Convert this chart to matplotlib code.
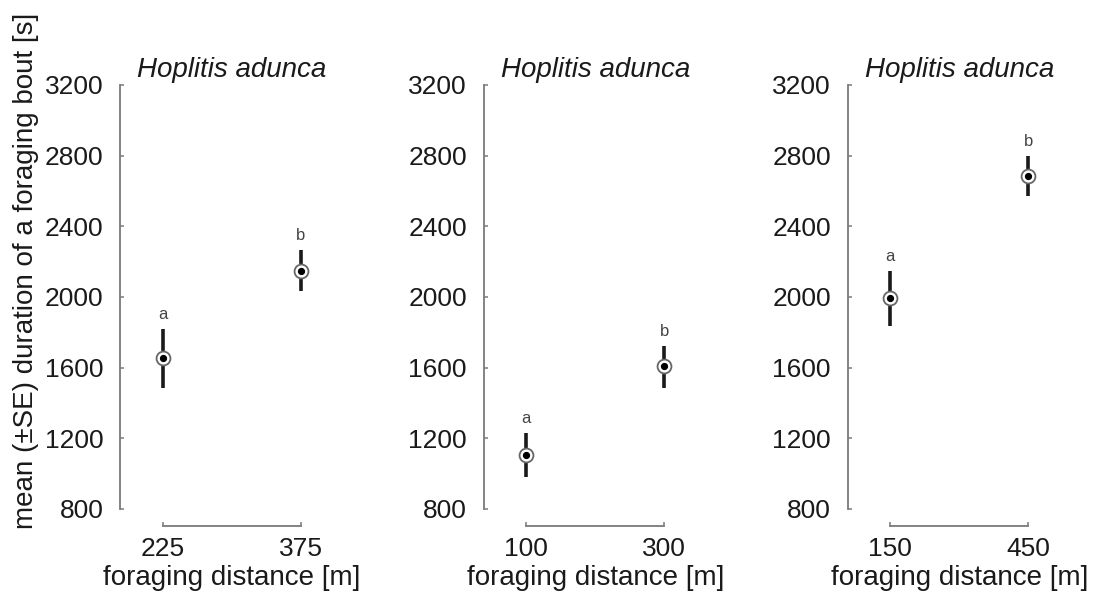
import matplotlib
matplotlib.use("Agg")
import matplotlib.pyplot as plt

plt.rcParams["font.family"] = ["Liberation Sans", "DejaVu Sans"]

species = ["Hoplitis adunca", "Hoplitis adunca", "Hoplitis adunca"]
distances = [[225, 375], [100, 300], [150, 450]]
means = [[1653, 2149], [1106, 1609], [1993, 2685]]
se_upper = [[1819, 2266], [1232, 1724], [2147, 2798]]
se_lower = [[1487, 2034], [983, 1487], [1837, 2572]]
letters = [["a", "b"], ["a", "b"], ["a", "b"]]
yticks = [800, 1200, 1600, 2000, 2400, 2800, 3200]

W, H = 1101, 596
fig = plt.figure(figsize=(W / 100, H / 100), dpi=100)

spine_grey = "#7a7a7a"
lefts = [137, 500.5, 864.5]
ax_w = 189.4
bottom_px, top_px = 509, 85
offset_pt = 17 * 72 / 100

for i in range(3):
    ax = fig.add_axes([lefts[i] / W, (H - bottom_px) / H, ax_w / W,
                       (bottom_px - top_px) / H])
    x = distances[i]
    m = means[i]
    lo = [m[k] - se_lower[i][k] for k in range(2)]
    hi = [se_upper[i][k] - m[k] for k in range(2)]

    ax.errorbar(x, m, yerr=[lo, hi], fmt="none", ecolor="#1a1a1a",
                elinewidth=2.6, capsize=0, zorder=2)
    ax.plot(x, m, "o", ms=10, mfc="white", mec="#666666", mew=1.3, zorder=3)
    ax.plot(x, m, "o", ms=4.2, color="black", zorder=4)

    for k in range(2):
        ax.annotate(letters[i][k], (x[k], se_upper[i][k]), xytext=(0, 7),
                    textcoords="offset points", ha="center", va="baseline",
                    fontsize=12, color="#444444")

    span = x[1] - x[0]
    pad = 0.186 * span
    ax.set_xlim(x[0] - pad, x[1] + pad)
    ax.set_ylim(800, 3200)
    ax.set_xticks(x)
    ax.set_xticklabels([str(v) for v in x])
    ax.set_yticks(yticks)

    for s in ["top", "right"]:
        ax.spines[s].set_visible(False)
    ax.spines["left"].set_position(("outward", offset_pt))
    ax.spines["bottom"].set_position(("outward", offset_pt))
    ax.spines["left"].set_bounds(800, 3200)
    ax.spines["bottom"].set_bounds(x[0], x[1])
    for s in ["left", "bottom"]:
        ax.spines[s].set_color(spine_grey)
        ax.spines[s].set_linewidth(1.3)

    ax.tick_params(axis="both", direction="in", length=3, width=1.1,
                   color=spine_grey, labelsize=19, labelcolor="#1a1a1a")
    ax.tick_params(axis="y", pad=12)
    ax.tick_params(axis="x", pad=8)
    ax.set_xlabel("foraging distance [m]", fontsize=20, color="#1a1a1a",
                  labelpad=3)
    ax.set_title(species[i], fontsize=20, style="italic", color="#1a1a1a",
                 pad=6)
    ax.patch.set_visible(False)

fig.text(26 / W, (H - 271) / H, "mean (\u00b1SE) duration of a foraging bout [s]",
         rotation=90, ha="center", va="center", fontsize=20, color="#1a1a1a")

fig.savefig("out.png", dpi=100)
